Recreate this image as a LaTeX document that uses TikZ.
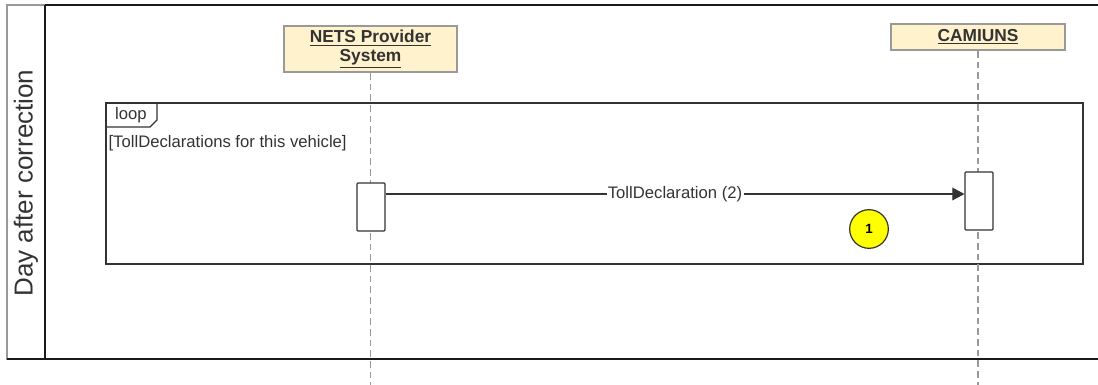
\documentclass[tikz,border=0pt]{standalone}
\usepackage{fontspec}
\setmainfont{Liberation Sans}
\usetikzlibrary{positioning,arrows.meta,calc}
\definecolor{ink}{HTML}{333333}
\definecolor{grey}{HTML}{999999}
\definecolor{rule}{HTML}{1A1A1A}
\definecolor{headfill}{HTML}{FFF2CC}
\definecolor{badgefill}{HTML}{FFFF00}
\tikzset{
  head/.style={draw=grey, fill=headfill, line width=1.3pt, align=center,
               font=\fontsize{13}{15}\selectfont\bfseries, text=ink, inner sep=1pt},
  life/.style={draw=grey, line width=1.3pt, dash pattern=on 5pt off 3pt},
  act/.style={draw=ink, fill=white, line width=0.9pt, rounded corners=0.8pt,
              minimum width=21pt},
  msg/.style={-{Triangle[length=9pt, width=9.5pt]}, draw=ink, line width=0.8pt},
  lbl/.style={font=\fontsize{12.5}{14}\selectfont, text=ink, inner sep=1pt},
  frm/.style={draw=ink, line width=0.9pt},
  badge/.style={circle, draw=ink, fill=badgefill, line width=0.9pt, minimum size=29pt,
                inner sep=0pt, font=\fontsize{10}{11}\selectfont\bfseries},
}

\begin{document}
\begin{tikzpicture}[x=0.75pt, y=-0.75pt]
\useasboundingbox (0,0) rectangle (1098,385);

% pool with its lane title
\draw[grey, line width=1.2pt] (7,5) rectangle (45,359);
\draw[rule, line width=1.5pt] (45,5) -- (1098,5);
\draw[rule, line width=2.2pt] (45,5) -- (45,359);
\draw[rule, line width=2.2pt] (7,359) -- (1098,359);
\node[font=\fontsize{19.5}{21}\selectfont, text=ink, rotate=90] (lane) at (26,183) {Day after correction};

% loop frame
\draw[frm] (106,103) rectangle (1083,264);
\draw[frm] (106,127) -- (150,127) -- (157,120) -- (157,103);
\node[lbl] (kind) at (131,115) {loop};
\node[lbl, anchor=west] (guard) at (107,143) {[TollDeclarations for this vehicle]};

% participants
\coordinate (bot) at (0,385);
\node[head, minimum width=129.75pt, minimum height=34.5pt] (nets) at (370.5,49)
  {\underline{NETS Provider}\\[-1pt]\underline{System}};
\node[head, minimum width=130.5pt, minimum height=19.5pt] (cam) at (978,37) {\underline{CAMIUNS}};
\draw[life] (nets.south) -- (nets.south |- bot);
\draw[life] (cam.south) -- (cam.south |- bot);

\node[act, minimum height=36pt] (sendbar) at (371,207) {};
\node[act, minimum height=43.5pt] (recvbar) at (979,201) {};

\coordinate (msgy) at (0,194);
\draw[msg] (sendbar.east |- msgy) -- node[lbl, fill=white, pos=0.5] {TollDeclaration (2)} (recvbar.west |- msgy);

\node[badge] (step1) at (869,229) {1};

\end{tikzpicture}
\end{document}
